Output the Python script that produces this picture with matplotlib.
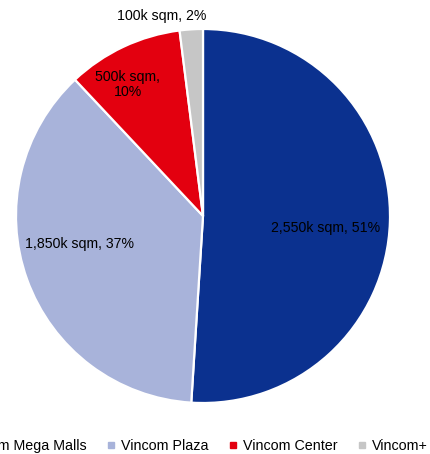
import matplotlib
matplotlib.use("Agg")
import matplotlib.pyplot as plt
from matplotlib.lines import Line2D
import numpy as np

plt.rcParams['font.family'] = ['Liberation Sans', 'DejaVu Sans']

categories = ["Vincom Mega Malls", "Vincom Plaza", "Vincom Center", "Vincom+"]
values = [2550, 1850, 500, 100]
labels = ["2,550k sqm, 51%", "1,850k sqm, 37%", "500k sqm,\n10%", "100k sqm, 2%"]
colors = ["#0b318f", "#a8b3da", "#e3000f", "#c6c6c6"]

W, H = 431, 454
fig = plt.figure(figsize=(W / 100, H / 100), dpi=100)
R = 187.0
cx, cy = 203.0, H - 216.0
half = 1.1 * R
ax = fig.add_axes([(cx - half) / W, (cy - half) / H, 2 * half / W, 2 * half / H])

wedges, _ = ax.pie(values, colors=colors, startangle=90, counterclock=False,
                   wedgeprops=dict(edgecolor="white", linewidth=1.6))
ax.set_xlim(-1.1, 1.1)
ax.set_ylim(-1.1, 1.1)
ax.set_aspect("equal")
ax.axis("off")

# label placement (radius fraction, angle offset in degrees from wedge mid)
placement = [(0.66, -3.8), (0.675, -7.0), (0.81, 4.6), (1.09, 8.0)]
for w, lab, (rf, doff) in zip(wedges, labels, placement):
    mid = (w.theta1 + w.theta2) / 2 + doff
    x = rf * np.cos(np.radians(mid))
    y = rf * np.sin(np.radians(mid))
    ax.text(x, y, lab, ha="center", va="center", fontsize=10.2, color="black",
            linespacing=1.05)

handles = [Line2D([], [], marker="s", linestyle="none", markersize=4,
                  markerfacecolor=c, markeredgecolor=c) for c in colors]
fig.legend(handles, categories, ncol=4, loc="center",
           bbox_to_anchor=(188 / W, (H - 446) / H), frameon=False,
           fontsize=10.3, handlelength=0.6, handletextpad=0.4, columnspacing=1.4)

fig.savefig("out.png", dpi=100)
